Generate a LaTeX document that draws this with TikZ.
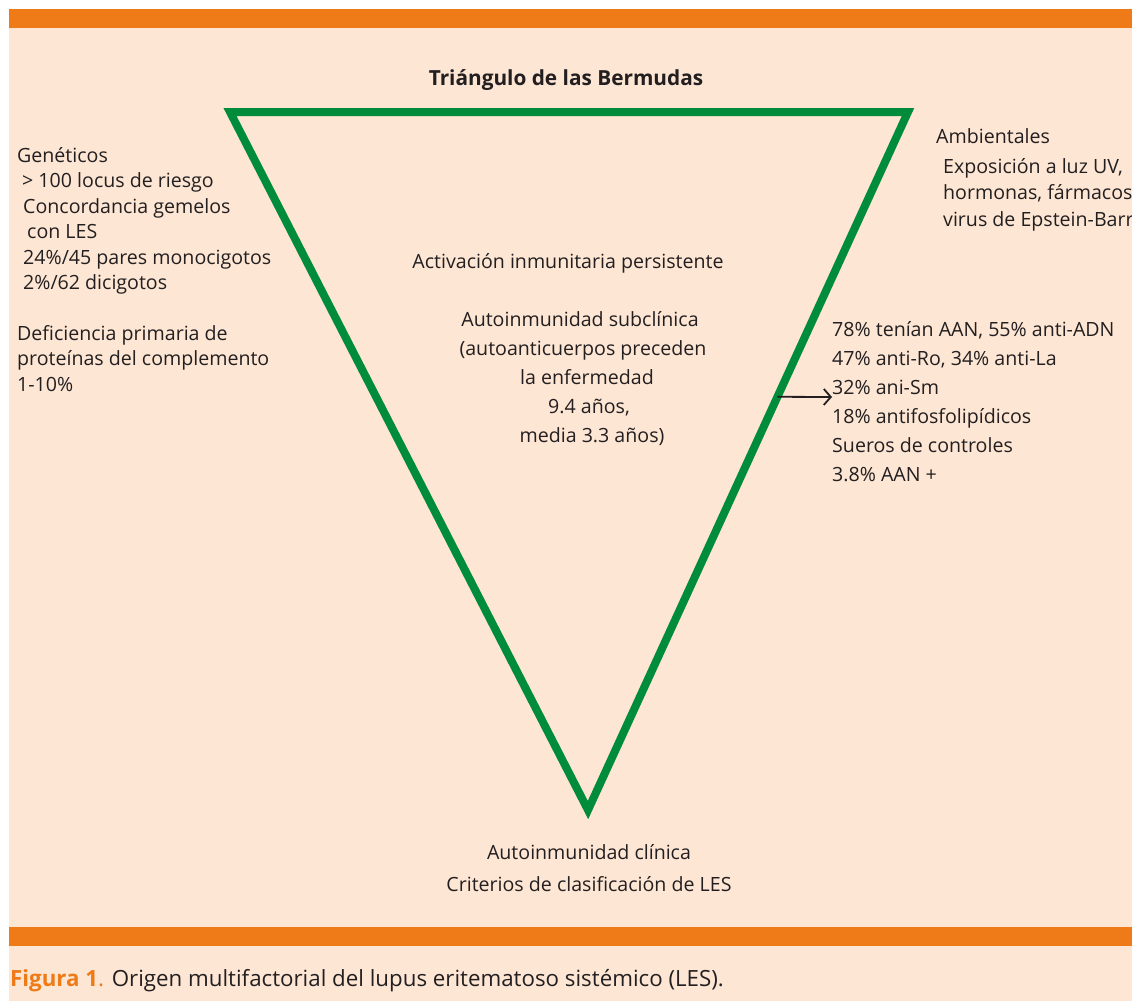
\documentclass[tikz,border=0pt]{standalone}
\usepackage{fontspec}
\setmainfont{Open Sans}
\usetikzlibrary{arrows.meta,calc}
\definecolor{peach}{RGB}{253,230,212}
\definecolor{barorange}{RGB}{239,122,24}
\definecolor{trigreen}{RGB}{0,140,58}
\definecolor{ink}{RGB}{35,31,32}
\tikzset{
  txt/.style={inner sep=0pt, text=ink, font=\fontsize{19.6}{25.4}\selectfont},
  bar/.style={fill=barorange, draw=none},
}
\begin{document}
\begin{tikzpicture}[x=1pt,y=-1pt]
\useasboundingbox (0,0) rectangle (1132,1001);
\fill[white] (0,0) rectangle (1132,1001);
\fill[peach] (9,28) rectangle (1132,1001);
\fill[bar] (9,9) rectangle (1132,28);
\fill[bar] (9,927) rectangle (1132,946);
% triangle
\coordinate (tl) at (230,112);
\coordinate (tr) at (908,112);
\coordinate (bt) at (588,810);
\draw[trigreen, line width=8pt, miter limit=10] (tl) -- (tr) -- (bt) -- cycle;
% title
\node[txt, font=\fontsize{20.8}{24}\selectfont\bfseries, anchor=base] (title) at (566,85) {Triángulo de las Bermudas};
% left block (base anchor = last line)
\node[txt, anchor=base west, align=left] (gen) at (17,391) {Genéticos\\
\hspace*{5pt}> 100 locus de riesgo\\
\hspace*{6pt}Concordancia gemelos\\
\hspace*{10pt}con LES\\
\hspace*{6pt}24\%/45 pares monocigotos\\
\hspace*{6pt}2\%/62 dicigotos\\[25.4pt]
Deficiencia primaria de\\
proteínas del complemento\\
1-10\%};
% right top block
\node[txt, anchor=base west] (amb) at (936,143) {Ambientales};
\node[txt, anchor=base west, align=left, font=\fontsize{19.6}{26.5}\selectfont] (env) at (943,226) {Exposición a luz UV,\\hormonas, fármacos,\\virus de Epstein-Barr};
% center block
\node[txt, anchor=base, align=center, font=\fontsize{19.6}{29}\selectfont] (act) at (568,268) {Activación inmunitaria persistente};
\node[txt, anchor=base, align=center, font=\fontsize{19.6}{29}\selectfont] (sub) at (580,442) {Autoinmunidad subclínica\\
\hspace*{6pt}(autoanticuerpos preceden\\
\hspace*{14pt}la enfermedad\\
\hspace*{18pt}9.4 años,\\
\hspace*{24pt}media 3.3 años)};
% right middle block
\node[txt, anchor=base west] (aan) at (832,336) {78\% tenían AAN, 55\% anti-ADN};
\node[txt, anchor=base west] (ro) at (832,365) {47\% anti-Ro, 34\% anti-La};
\node[txt, anchor=base west] (sm) at (832,394) {32\% ani-Sm};
\node[txt, anchor=base west] (fos) at (832,423) {18\% antifosfolipídicos};
\node[txt, anchor=base west] (sue) at (832,452) {Sueros de controles};
\node[txt, anchor=base west] (ctl) at (832,481) {3.8\% AAN +};
% arrow
\coordinate (edge) at ($(tr)!0.408!(bt)$);
\draw[ink, line width=1.8pt, -{Straight Barb[length=7pt,width=16pt,line width=1.8pt]}] (edge) -- ([yshift=-3pt]sm.base west);
% bottom block
\node[txt, anchor=base, align=center, font=\fontsize{19.6}{32}\selectfont] (cli) at (589,891) {Autoinmunidad clínica\\Criterios de clasificación de LES};
% caption
\node[txt, anchor=base west, font=\fontsize{22.3}{28}\selectfont] (cap) at (10,986) {{\color{barorange}\bfseries Figura 1}{\color{barorange}.} Origen multifactorial del lupus eritematoso sistémico (LES).};
\end{tikzpicture}
\end{document}
